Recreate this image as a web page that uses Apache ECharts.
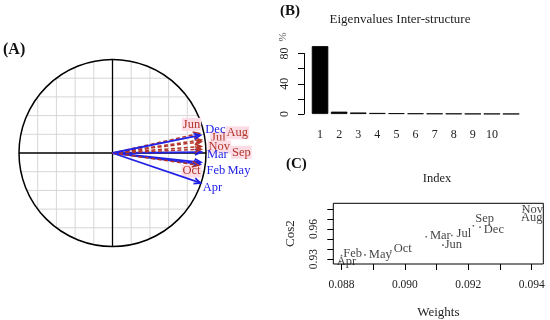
<!DOCTYPE html>
<html>
<head>
<meta charset="utf-8">
<script src="https://cdn.jsdelivr.net/npm/echarts@6/dist/echarts.min.js"></script>
<style>
html,body{margin:0;padding:0;background:#fff;}
#c{width:550px;height:320px;}
</style>
</head>
<body>
<div id="c"></div>
<script>
// ---------------- data ----------------
const months = ['Feb','Mar','Apr','May','Jun','Jul','Aug','Sep','Oct','Nov','Dec'];
// (A) interstructure: coordinates of each month on the correlation circle
const armX = [0.945, 0.95, 0.94, 0.935, 0.93, 0.95, 0.95, 0.95, 0.92, 0.95, 0.94];
const armY = [-0.10, 0.01, -0.32, -0.12, 0.21, 0.14, 0.12, 0.04, -0.13, 0.07, 0.19];
const armGroup = ['g1','g1','g1','g1','g2','g2','g2','g2','g2','g2','g1'];
// (B) eigenvalues (%)
const eigIndex = [1,2,3,4,5,6,7,8,9,10,11];
const eigValues = [89.8, 3.1, 2.0, 1.4, 1.1, 0.8, 0.6, 0.5, 0.3, 0.25, 0.15];
const eigTickLabels = [1,2,3,4,5,6,7,8,9,10];
const eigYTicks = [0,20,40,60,80];
const eigYLabels = [0,40,80];
// (C) typology: weights vs cos2
const weights = [0.08800, 0.09067, 0.08795, 0.08874, 0.09120, 0.09148, 0.09373, 0.09216, 0.08956, 0.09375, 0.09237];
const cos2 = [0.9335, 0.9523, 0.9275, 0.9342, 0.9440, 0.9535, 0.9715, 0.9632, 0.9384, 0.9795, 0.9617];
const wTicks = [0.088,0.089,0.090,0.091,0.092,0.093,0.094];
const wLabels = [0.088,0.090,0.092,0.094];
const cTicks = [0.93,0.94,0.95,0.96,0.97,0.98];
const cLabels = [0.93,0.96];

// ---------------- layout / style ----------------
const SERIF = '"Liberation Serif","DejaVu Serif",serif';
const groupStyle = {
  g1: {color:'#2222e6', dash:null, width:1.8, bg:null, z:4},
  g2: {color:'#b3362c', dash:[4,2.5], width:1.5, bg:'#fcdde5', z:2}
};
// label offsets (px) relative to arrow tips in (A)
const armLabelOffset = [[15,8],[16,3],[12,5],[39,6],[-8,-9],[17,-2],[36,-9],[40,3],[-7,6],[18,0.5],[15,-6]];
// label offsets (px) relative to points in (C)
const ptLabelOffset = [[-1,-2],[1,-1],[-6,0],[1,0],[-1,0],[2,-1.5],[-5,0],[-1,-7],[0,-2],[-5,0],[1,2]];

const chart = echarts.init(document.getElementById('c'), null, {renderer:'canvas'});

const gridTicksA = [-0.8,-0.6,-0.4,-0.2,0.2,0.4,0.6,0.8];

const option = {
  animation: false,
  backgroundColor: '#fff',
  grid: [
    {left:19, top:59.5, width:187, height:187},
    {left:304, top:53.5, width:224, height:60.5},
    {left:333.3, top:203.3, width:210, height:62.7, show:true, borderColor:'#000', borderWidth:1, backgroundColor:'transparent'}
  ],
  xAxis: [
    {gridIndex:0, type:'value', min:-1, max:1, show:false},
    {gridIndex:1, type:'value', min:0.16, max:11.888,
      axisLine:{show:false}, axisTick:{show:false}, splitLine:{show:false},
      axisLabel:{customValues:eigTickLabels, margin:15, fontFamily:SERIF, fontSize:12, color:'#222'}},
    {gridIndex:2, type:'value', min:0.087741, max:0.094366,
      axisLine:{show:false}, splitLine:{show:false},
      axisTick:{customValues:wTicks, length:6, lineStyle:{color:'#000', width:1}},
      axisLabel:{customValues:wLabels, margin:15, fontFamily:SERIF, fontSize:11.5, color:'#222', formatter:v=>v.toFixed(3)},
      name:'Weights', nameLocation:'middle', nameGap:42, nameTextStyle:{fontFamily:SERIF, fontSize:13, color:'#222'}}
  ],
  yAxis: [
    {gridIndex:0, type:'value', min:-1, max:1, show:false},
    {gridIndex:1, type:'value', min:0, max:80,
      axisLine:{show:true, lineStyle:{color:'#000', width:1}}, splitLine:{show:false},
      axisTick:{show:true, customValues:eigYTicks, length:6, lineStyle:{color:'#000'}},
      axisLabel:{customValues:eigYLabels, rotate:90, margin:13, fontFamily:SERIF, fontSize:12, color:'#222'}},
    {gridIndex:2, type:'value', min:0.92516, max:0.98559,
      axisLine:{show:false}, splitLine:{show:false},
      axisTick:{show:true, customValues:cTicks, length:6, lineStyle:{color:'#000'}},
      axisLabel:{customValues:cLabels, rotate:90, margin:13, fontFamily:SERIF, fontSize:11.5, color:'#222', formatter:v=>v.toFixed(2)},
      name:'Cos2', nameLocation:'middle', nameGap:36, nameRotate:90, nameTextStyle:{fontFamily:SERIF, fontSize:13, color:'#222'}}
  ],
  graphic: [
    {type:'text', left:3, top:42, style:{text:'(A)', font:'bold 16px '+SERIF, fill:'#111'}},
    {type:'text', left:280, top:4, style:{text:'(B)', font:'bold 15px '+SERIF, fill:'#111'}},
    {type:'text', left:286, top:157, style:{text:'(C)', font:'bold 15px '+SERIF, fill:'#111'}},
    {type:'text', x:400, y:20, style:{text:'Eigenvalues Inter-structure', font:'13px '+SERIF, fill:'#222', align:'center', verticalAlign:'middle'}},
    {type:'text', x:437, y:179, style:{text:'Index', font:'12.5px '+SERIF, fill:'#222', align:'center', verticalAlign:'middle'}},
    {type:'text', x:283, y:37, rotation:Math.PI/2, style:{text:'%', font:'11px '+SERIF, fill:'#555', align:'center', verticalAlign:'middle'}}
  ],
  series: [
    // (A) circle, grid and axes
    {
      type:'custom', xAxisIndex:0, yAxisIndex:0, clip:false, silent:true, z:1,
      data:[[0,0]],
      renderItem:function(params, api){
        const c = api.coord([0,0]);
        const r = api.coord([1,0])[0] - c[0];
        const children = [];
        gridTicksA.forEach(function(t){
          const h = Math.sqrt(1 - t*t);
          const a = api.coord([t,-h]), b = api.coord([t,h]);
          children.push({type:'line', shape:{x1:a[0],y1:a[1],x2:b[0],y2:b[1]}, style:{stroke:'#d6d6d6', lineWidth:1}});
          const p = api.coord([-h,t]), q = api.coord([h,t]);
          children.push({type:'line', shape:{x1:p[0],y1:p[1],x2:q[0],y2:q[1]}, style:{stroke:'#d6d6d6', lineWidth:1}});
        });
        const l = api.coord([-1,0]), rr = api.coord([1,0]), tp = api.coord([0,1]), bt = api.coord([0,-1]);
        children.push({type:'line', shape:{x1:l[0],y1:l[1],x2:rr[0],y2:rr[1]}, style:{stroke:'#000', lineWidth:1.3}});
        children.push({type:'line', shape:{x1:tp[0],y1:tp[1],x2:bt[0],y2:bt[1]}, style:{stroke:'#000', lineWidth:1.3}});
        children.push({type:'circle', shape:{cx:c[0], cy:c[1], r:r}, style:{fill:'none', stroke:'#000', lineWidth:1.5}});
        return {type:'group', children:children};
      }
    },
    // (A) arrows
    {
      type:'custom', xAxisIndex:0, yAxisIndex:0, clip:false, silent:true, z:3,
      data: months.map(function(m,i){ return [armX[i], armY[i], i]; }),
      renderItem:function(params, api){
        const i = api.value(2);
        const st = groupStyle[armGroup[i]];
        const o = api.coord([0,0]);
        const t = api.coord([api.value(0), api.value(1)]);
        const ang = Math.atan2(t[1]-o[1], t[0]-o[0]);
        const hl = 7, ha = 0.42;
        const h1 = [t[0]-hl*Math.cos(ang-ha), t[1]-hl*Math.sin(ang-ha)];
        const h2 = [t[0]-hl*Math.cos(ang+ha), t[1]-hl*Math.sin(ang+ha)];
        const off = armLabelOffset[i];
        const lineStyle = {stroke:st.color, lineWidth:st.width, lineDash:st.dash};
        const textStyle = {text:months[i], x:t[0]+off[0], y:t[1]+off[1], fill:st.color, font:'12.5px '+SERIF, align:'center', verticalAlign:'middle'};
        if (st.bg) { textStyle.backgroundColor = st.bg; textStyle.padding = [0,1]; }
        return {type:'group', children:[
          {type:'text', style:textStyle, z2:st.z},
          {type:'line', shape:{x1:o[0],y1:o[1],x2:t[0],y2:t[1]}, style:lineStyle, z2:3},
          {type:'polyline', shape:{points:[h1,t,h2]}, style:{stroke:st.color, lineWidth:st.width, fill:'none'}, z2:3}
        ]};
      }
    },
    // (B) eigenvalue bars
    {
      type:'bar', xAxisIndex:1, yAxisIndex:1, clip:false, barWidth:16.5,
      data: eigIndex.map(function(k,i){ return [k, eigValues[i]]; }),
      itemStyle:{color:'#000', borderColor:'#000', borderWidth:0.8}
    },
    // (C) typology points with labels
    {
      type:'scatter', xAxisIndex:2, yAxisIndex:2, clip:false, symbol:'rect', symbolSize:1.6,
      itemStyle:{color:'#444'},
      data: months.map(function(m,i){
        return {name:m, value:[weights[i], cos2[i]],
          label:{offset:ptLabelOffset[i]}};
      }),
      label:{show:true, position:'right', distance:2, formatter:'{b}', fontFamily:SERIF, fontSize:12.5, color:'#111', backgroundColor:'transparent'}
    }
  ]
};
chart.setOption(option);
</script>
</body>
</html>
